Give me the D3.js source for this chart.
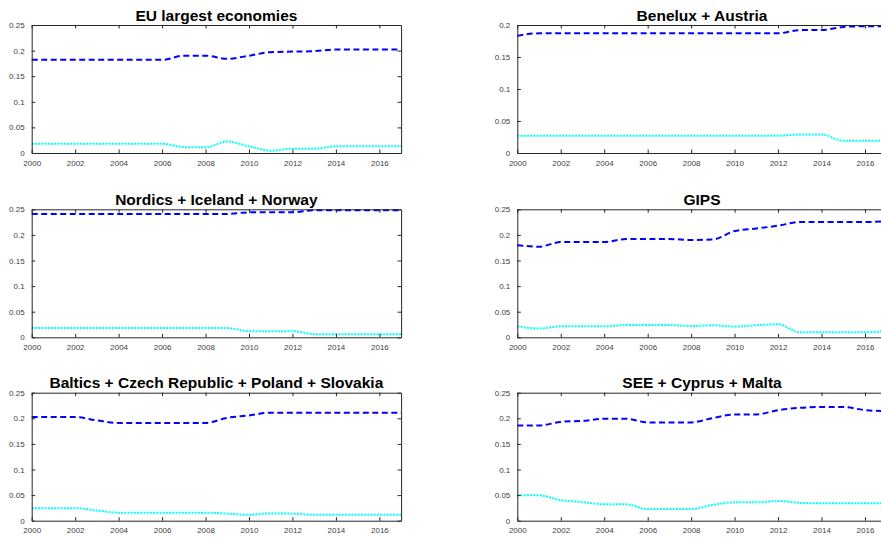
<!DOCTYPE html>
<html>
<head>
<meta charset="utf-8">
<script src="https://cdn.jsdelivr.net/npm/d3@7"></script>
<style>
html,body{margin:0;padding:0;background:#fff;overflow:hidden;}
svg{display:block;font-family:"Liberation Sans",Arial,Helvetica,sans-serif;}
</style>
</head>
<body>
<svg id="chart" width="881" height="538"></svg>
<script>
const years = d3.range(2000, 2018);
const xTicks = [2000, 2002, 2004, 2006, 2008, 2010, 2012, 2014, 2016];

const titles = [
  "EU largest economies",
  "Benelux + Austria",
  "Nordics + Iceland + Norway",
  "GIPS",
  "Baltics + Czech Republic + Poland + Slovakia",
  "SEE + Cyprus + Malta"
];

const yMax = [0.25, 0.2, 0.25, 0.25, 0.25, 0.25];

// Dashed blue series (one per panel), 2000..2017
const blueEU      = [0.182,0.182,0.182,0.182,0.182,0.182,0.182,0.190,0.190,0.184,0.190,0.197,0.198,0.199,0.202,0.202,0.202,0.202];
const blueBenelux = [0.183,0.187,0.187,0.187,0.187,0.187,0.187,0.187,0.187,0.187,0.187,0.187,0.187,0.192,0.192,0.197,0.198,0.198];
const blueNordics = [0.241,0.241,0.241,0.241,0.241,0.241,0.241,0.241,0.241,0.241,0.244,0.244,0.244,0.248,0.248,0.248,0.248,0.248];
const blueGIPS    = [0.180,0.177,0.186,0.186,0.186,0.192,0.192,0.192,0.190,0.191,0.2075,0.2125,0.218,0.225,0.225,0.225,0.225,0.227];
const blueBaltics = [0.2025,0.2025,0.2025,0.196,0.191,0.191,0.191,0.191,0.191,0.201,0.2055,0.211,0.211,0.211,0.211,0.211,0.211,0.211];
const blueSEE     = [0.186,0.186,0.193,0.195,0.199,0.199,0.192,0.192,0.192,0.2005,0.2075,0.2075,0.216,0.2205,0.222,0.222,0.216,0.214];

// Dotted cyan series (one per panel), 2000..2017
const cyanEU      = [0.018,0.018,0.018,0.018,0.018,0.018,0.018,0.0115,0.011,0.0225,0.013,0.0045,0.0085,0.0085,0.013,0.013,0.013,0.013];
const cyanBenelux = [0.027,0.027,0.027,0.027,0.027,0.027,0.027,0.027,0.027,0.027,0.027,0.027,0.027,0.029,0.029,0.019,0.019,0.019];
const cyanNordics = [0.018,0.018,0.018,0.018,0.018,0.018,0.018,0.018,0.018,0.018,0.012,0.012,0.012,0.006,0.006,0.006,0.006,0.006];
const cyanGIPS    = [0.0215,0.017,0.0215,0.0215,0.0215,0.024,0.024,0.024,0.022,0.0235,0.021,0.0235,0.0255,0.0098,0.0098,0.0098,0.0098,0.0124];
const cyanBaltics = [0.0245,0.0245,0.0245,0.020,0.0156,0.0156,0.0156,0.0156,0.0156,0.0137,0.0117,0.0143,0.0137,0.0117,0.0117,0.0117,0.0117,0.0117];
const cyanSEE     = [0.0495,0.0495,0.040,0.0365,0.032,0.032,0.0228,0.0228,0.0228,0.031,0.0358,0.0358,0.0384,0.035,0.0339,0.0339,0.0339,0.0339];

const blueSeries = [blueEU, blueBenelux, blueNordics, blueGIPS, blueBaltics, blueSEE];
const cyanSeries = [cyanEU, cyanBenelux, cyanNordics, cyanGIPS, cyanBaltics, cyanSEE];

const svg = d3.select("#chart");

const colLeft = [31.7, 517.3];
const plotW = 369.4;
const rowTop = [25, 209.3, 392.7];
const plotH = 128;
const axisColor = "#262626";
const tickLen = 3.5;

const fmt = d => String(+d.toFixed(2));

titles.forEach((title, i) => {
  const col = i % 2, row = Math.floor(i / 2);
  const x0 = colLeft[col], y0 = rowTop[row];
  const g = svg.append("g").attr("transform", `translate(${x0},${y0})`);

  const x = d3.scaleLinear().domain([2000, 2017]).range([0, plotW]);
  const y = d3.scaleLinear().domain([0, yMax[i]]).range([plotH, 0]);
  const yTicks = d3.range(0, yMax[i] + 1e-9, 0.05);

  // lines
  const line = d3.line()
    .x((d, k) => x(years[k]))
    .y(d => y(d))
    .curve(d3.curveMonotoneX);

  g.append("path")
    .datum(cyanSeries[i])
    .attr("d", line)
    .attr("fill", "none")
    .attr("stroke", "#00ffff")
    .attr("stroke-width", 2)
    .attr("stroke-dasharray", "2,1.2");

  g.append("path")
    .datum(blueSeries[i])
    .attr("d", line)
    .attr("fill", "none")
    .attr("stroke", "#0000ff")
    .attr("stroke-width", 2)
    .attr("stroke-dasharray", "6,3.5");

  // axes
  const xAxB = d3.axisBottom(x).tickValues(xTicks).tickFormat(d3.format("d")).tickSizeInner(-tickLen).tickSizeOuter(0).tickPadding(7);
  const xAxT = d3.axisTop(x).tickValues(xTicks).tickFormat("").tickSizeInner(-tickLen).tickSizeOuter(0);
  const yAxL = d3.axisLeft(y).tickValues(yTicks).tickFormat(fmt).tickSizeInner(-tickLen).tickSizeOuter(0).tickPadding(7);
  const yAxR = d3.axisRight(y).tickValues(yTicks).tickFormat("").tickSizeInner(-tickLen).tickSizeOuter(0);

  const style = sel => {
    sel.selectAll("path").attr("stroke", axisColor).attr("stroke-width", 1);
    sel.selectAll("line").attr("stroke", axisColor).attr("stroke-width", 1);
    sel.selectAll("text").attr("fill", "#404040").style("font-size", "8px")
      .style("font-family", '"Liberation Sans",Arial,Helvetica,sans-serif');
  };

  g.append("g").attr("transform", `translate(0,${plotH})`).call(xAxB).call(style);
  g.append("g").call(xAxT).call(style);
  g.append("g").call(yAxL).call(style);
  g.append("g").attr("transform", `translate(${plotW},0)`).call(yAxR).call(style);

  // title
  g.append("text")
    .attr("x", plotW / 2)
    .attr("y", -4.5)
    .attr("text-anchor", "middle")
    .style("font-size", "15.5px")
    .style("font-weight", "bold")
    .attr("fill", "#000")
    .text(title);
});
</script>
</body>
</html>
